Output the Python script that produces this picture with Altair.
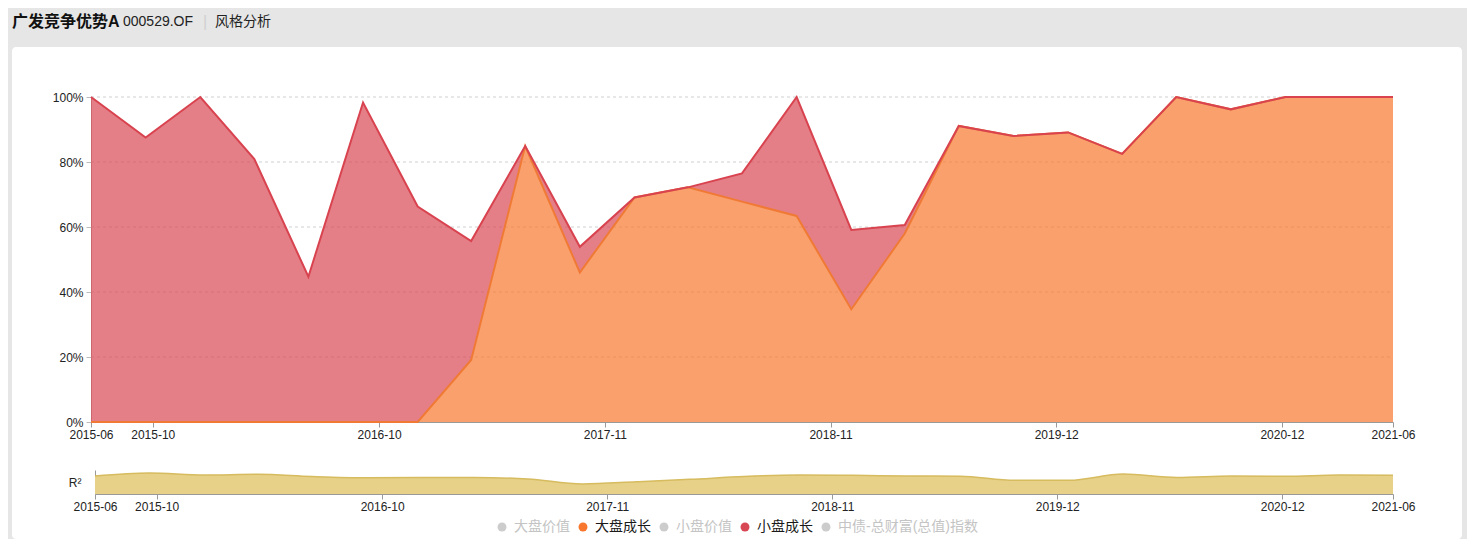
import altair as alt
import pandas as pd

# ---------------- data ----------------
dates = ["2015-06-30", "2015-09-30", "2015-12-31", "2016-03-31", "2016-06-30", "2016-09-30",
         "2016-12-31", "2017-03-31", "2017-06-30", "2017-09-30", "2017-12-31", "2018-03-31",
         "2018-06-30", "2018-09-30", "2018-12-31", "2019-03-31", "2019-06-30", "2019-09-30",
         "2019-12-31", "2020-03-31", "2020-06-30", "2020-09-30", "2020-12-31", "2021-03-31",
         "2021-06-30"]
large_growth = [0, 0, 0, 0, 0, 0, 0, 19.1, 84.9, 46.0, 69.1, 72.2, 67.8, 63.4, 34.7, 58.0,
                91.1, 88.0, 89.1, 82.5, 100, 96.2, 100, 100, 100]
small_growth = [100, 87.5, 100, 80.9, 44.7, 98.3, 66.3, 36.6, 0, 7.9, 0, 0, 8.7, 36.6, 24.4, 2.6,
                0, 0, 0, 0, 0, 0, 0, 0, 0]
r_squared = [0.75, 0.875, 0.79, 0.82, 0.73, 0.68, 0.69, 0.69, 0.625, 0.42, 0.51, 0.61, 0.73,
             0.79, 0.78, 0.75, 0.74, 0.57, 0.57, 0.83, 0.69, 0.75, 0.74, 0.79, 0.78]

series_names = ["大盘价值", "大盘成长", "小盘价值", "小盘成长", "中债-总财富(总值)指数"]
series_colors = ["#cccccc", "#f6772d", "#cccccc", "#d84854", "#cccccc"]

y_ticks = [0, 20, 40, 60, 80, 100]
grid_values = [20, 40, 60, 80, 100]
x_tick_dates = [(2015, 6, 30), (2015, 10, 12), (2016, 10, 27), (2017, 11, 11),
                (2018, 11, 26), (2019, 12, 11), (2020, 12, 25), (2021, 6, 30)]

title_main = "广发竞争优势A"
title_code = "000529.OF"
title_tab = "风格分析"

FONT = "Liberation Sans, Noto Sans CJK SC, sans-serif"

# ---------------- tables ----------------
small_top = [a + b for a, b in zip(large_growth, small_growth)]
red_df = pd.DataFrame({"date": dates, "series": "小盘成长", "value": small_top, "base": large_growth})
orange_df = pd.DataFrame({"date": dates, "series": "大盘成长", "value": large_growth,
                          "base": [0] * len(dates)})
r2_df = pd.DataFrame({"date": dates, "r2": r_squared})
grid_df = pd.DataFrame({"v": grid_values, "start": dates[0], "end": dates[-1]})


def dt(t):
    return alt.DateTime(year=t[0], month=t[1], date=t[2], utc=True)


x_domain = [dt((2015, 6, 30)), dt((2021, 6, 30))]
tick_vals = [dt(t) for t in x_tick_dates]

W, H = 1450, 492
xs_main = alt.Scale(type="utc", domain=x_domain, range=[79, 1381])
ys_main = alt.Scale(domain=[0, 100], range=[375, 50])
xs_r2 = alt.Scale(type="utc", domain=x_domain, range=[83, 1381])
ys_r2 = alt.Scale(domain=[0, 1], range=[447, 423])

x_axis_main = alt.Axis(orient="bottom", offset=-(H - 375), values=tick_vals,
                       labelExpr="utcFormat(datum.value, '%Y-%m')", grid=False,
                       tickSize=5, tickColor="#999999", domainColor="#999999",
                       labelColor="#222222", labelFontSize=12, labelPadding=2,
                       labelFlush=False, labelOverlap=False, title=None)
y_axis_main = alt.Axis(orient="left", offset=-79, values=y_ticks,
                       labelExpr="datum.value + '%'", grid=False,
                       tickSize=5, tickColor="#bbbbbb", domainColor="#aaaaaa",
                       labelColor="#222222", labelFontSize=12, labelPadding=3, title=None)
x_axis_r2 = alt.Axis(orient="bottom", offset=-(H - 447), values=tick_vals,
                     labelExpr="utcFormat(datum.value, '%Y-%m')", grid=False,
                     tickSize=5, tickColor="#999999", domainColor="#999999",
                     labelColor="#222222", labelFontSize=12, labelPadding=2,
                     labelFlush=False, labelOverlap=False, title=None)
y_axis_r2 = alt.Axis(orient="left", offset=-83, values=[0.5], labelExpr="'R²'",
                     grid=False, ticks=False, domainColor="#999999",
                     labelColor="#222222", labelFontSize=12, labelPadding=14, title=None)

color_scale = alt.Scale(domain=series_names, range=series_colors)
legend = alt.Legend(orient="none", legendX=483, legendY=473, direction="horizontal",
                    title=None, symbolType="circle", symbolSize=80, symbolOpacity=1,
                    symbolStrokeWidth=0, labelFontSize=14, labelOffset=5,
                    columnPadding=6, padding=0, labelFont=FONT,
                    labelColor=alt.expr("indexof(['大盘成长','小盘成长'], datum.value) >= 0 ? '#1a1a1a' : '#c4c4c4'"))

X_main = alt.X("date:T", scale=xs_main, axis=x_axis_main, title=None)
Y_main = alt.Y("value:Q", scale=ys_main, axis=y_axis_main, title=None)
C_main = alt.Color("series:N", scale=color_scale, legend=legend)

grid = alt.Chart(grid_df).mark_rule(color="#d0d0d0", strokeDash=[3, 3], strokeWidth=1).encode(
    x=alt.X("start:T", scale=xs_main, axis=x_axis_main, title=None),
    x2="end:T",
    y=alt.Y("v:Q", scale=ys_main, axis=y_axis_main, title=None),
)

red_area = alt.Chart(red_df).mark_area(opacity=0.7).encode(
    x=X_main, y=Y_main, y2="base:Q", color=C_main)
orange_area = alt.Chart(orange_df).mark_area(opacity=0.7).encode(
    x=X_main, y=Y_main, y2="base:Q", color=C_main)
orange_line = alt.Chart(orange_df).mark_line(color="#f07a35", strokeWidth=2).encode(
    x=X_main, y=Y_main)
red_line = alt.Chart(red_df).mark_line(color="#d8434f", strokeWidth=2).encode(
    x=X_main, y=Y_main)

main = alt.layer(grid, red_area, orange_area, orange_line, red_line)

r2 = alt.Chart(r2_df).mark_area(
    interpolate="monotone", color="#e7d189", opacity=1,
    line={"color": "#d6bb5f", "strokeWidth": 1.5}).encode(
    x=alt.X("date:T", scale=xs_r2, axis=x_axis_r2, title=None),
    y=alt.Y("r2:Q", scale=ys_r2, axis=y_axis_r2, title=None),
)


def header_text(txt, x, size, weight, color):
    return alt.Chart(pd.DataFrame({"t": [txt]})).mark_text(
        align="left", baseline="middle", fontSize=size, fontWeight=weight,
        color=color, font=FONT).encode(text="t:N", x=alt.value(x), y=alt.value(-25))


header = alt.layer(
    header_text(title_main, 0, 16, "bold", "#111111"),
    header_text(title_code, 111, 14, "normal", "#222222"),
    header_text("|", 191, 16, "normal", "#d0d0d0"),
    header_text(title_tab, 203, 14, "normal", "#222222"),
)

chart = alt.layer(main, r2, header).resolve_scale(x="independent", y="independent").properties(
    width=W, height=H,
    autosize=alt.AutoSizeParams(type="none"),
    padding={"left": 4, "top": 39, "right": 5, "bottom": 0},
    background="#e6e6e6",
).configure(font=FONT).configure_view(fill="white", stroke=None, cornerRadius=4)

chart.save("out.html", embed_options={"renderer": "svg", "actions": False})
